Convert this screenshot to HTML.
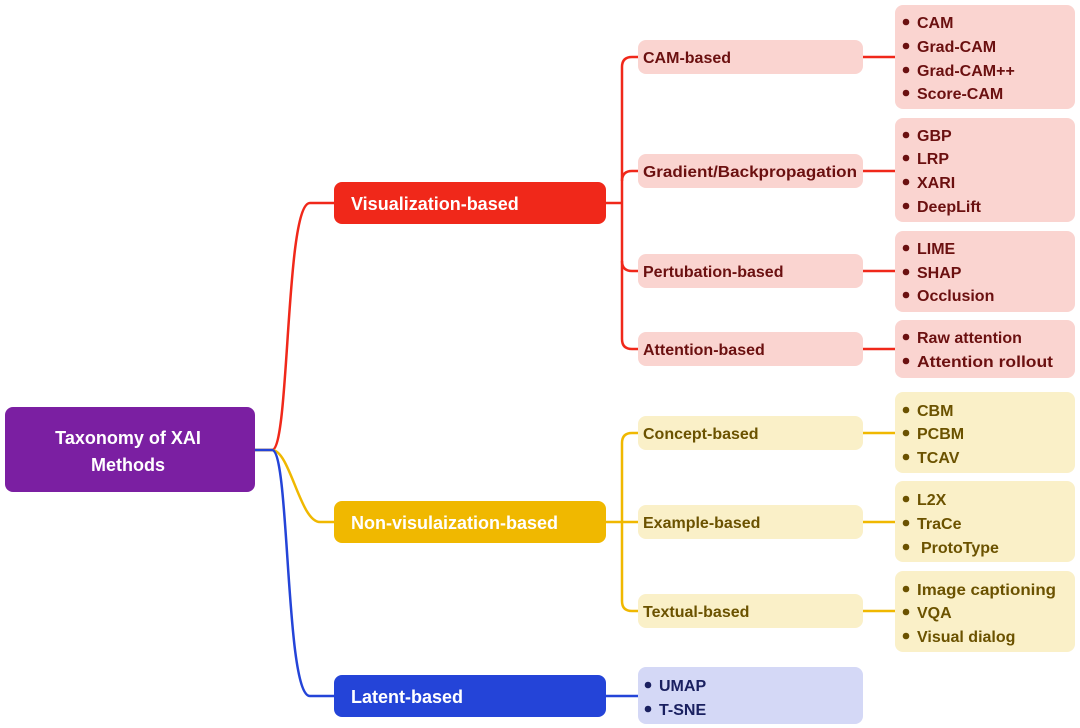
<!DOCTYPE html>
<html><head><meta charset="utf-8"><style>
html,body{margin:0;padding:0;background:#fff;}
svg{display:block;font-family:"Liberation Sans",sans-serif;font-weight:bold;}
</style></head><body>
<svg width="1080" height="728" viewBox="0 0 1080 728" xmlns="http://www.w3.org/2000/svg">
<g fill="none" stroke-width="2.5">
<path d="M255 450 H272 C290 450 285 203 310 203 H334" stroke="#F0281A"/>
<path d="M255 450 H272 C290 450 300 522 320 522 H334" stroke="#F0B800"/>
<path d="M255 450 H272 C290 450 285 696 310 696 H334" stroke="#2444D8"/>
<g stroke="#F0281A">
<path d="M606 203 H622"/>
<path d="M638 57 H632 Q622 57 622 67 V339 Q622 349 632 349 H638"/>
<path d="M622 181 Q622 171 632 171 H638"/>
<path d="M622 261 Q622 271 632 271 H638"/>
<path d="M863 57 H895 M863 171 H895 M863 271 H895 M863 349 H895"/>
</g>
<g stroke="#F0B800">
<path d="M606 522 H638"/>
<path d="M638 433 H632 Q622 433 622 443 V601 Q622 611 632 611 H638"/>
<path d="M863 433 H895 M863 522 H895 M863 611 H895"/>
</g>
<path d="M606 696 H638" stroke="#2444D8"/>
</g>
<rect x="5" y="407" width="250" height="85" rx="8" fill="#7B1FA2"/>
<text x="128" y="444" fill="#fff" font-size="18" text-anchor="middle">Taxonomy of XAI</text>
<text x="128" y="471" fill="#fff" font-size="18" text-anchor="middle">Methods</text>
<rect x="334" y="182" width="272" height="42" rx="8" fill="#F0281A"/>
<text x="351" y="210" fill="#fff" font-size="18">Visualization-based</text>
<rect x="334" y="501" width="272" height="42" rx="8" fill="#F0B800"/>
<text x="351" y="529" fill="#fff" font-size="18">Non-visulaization-based</text>
<rect x="334" y="675" width="272" height="42" rx="8" fill="#2444D8"/>
<text x="351" y="703" fill="#fff" font-size="18">Latent-based</text>
<g fill="#FAD4D0">
<rect x="638" y="40" width="225" height="34" rx="8"/>
<rect x="638" y="154" width="225" height="34" rx="8"/>
<rect x="638" y="254" width="225" height="34" rx="8"/>
<rect x="638" y="332" width="225" height="34" rx="8"/>
<rect x="895" y="5" width="180" height="104" rx="8"/>
<rect x="895" y="118" width="180" height="104" rx="8"/>
<rect x="895" y="231" width="180" height="81" rx="8"/>
<rect x="895" y="320" width="180" height="58" rx="8"/>
</g>
<g fill="#FAF0C8">
<rect x="638" y="416" width="225" height="34" rx="8"/>
<rect x="638" y="505" width="225" height="34" rx="8"/>
<rect x="638" y="594" width="225" height="34" rx="8"/>
<rect x="895" y="392" width="180" height="81" rx="8"/>
<rect x="895" y="481" width="180" height="81" rx="8"/>
<rect x="895" y="571" width="180" height="81" rx="8"/>
</g>
<rect x="638" y="667" width="225" height="57" rx="8" fill="#D4D8F6"/>
<g fill="#6B1010" font-size="16">
<text x="643" y="63">CAM-based</text>
<text x="643" y="177" textLength="214" lengthAdjust="spacingAndGlyphs">Gradient/Backpropagation</text>
<text x="643" y="277">Pertubation-based</text>
<text x="643" y="355">Attention-based</text>
<text x="917" y="28">CAM</text><text x="917" y="52">Grad-CAM</text><text x="917" y="76">Grad-CAM++</text><text x="917" y="99">Score-CAM</text>
<text x="917" y="141">GBP</text><text x="917" y="164">LRP</text><text x="917" y="188">XARI</text><text x="917" y="212">DeepLift</text>
<text x="917" y="254">LIME</text><text x="917" y="278">SHAP</text><text x="917" y="301">Occlusion</text>
<text x="917" y="343">Raw attention</text><text x="917" y="367" textLength="136" lengthAdjust="spacingAndGlyphs">Attention rollout</text>
<g>
<circle cx="906" cy="22" r="3.3"/><circle cx="906" cy="46" r="3.3"/><circle cx="906" cy="70" r="3.3"/><circle cx="906" cy="93" r="3.3"/>
<circle cx="906" cy="135" r="3.3"/><circle cx="906" cy="158" r="3.3"/><circle cx="906" cy="182" r="3.3"/><circle cx="906" cy="206" r="3.3"/>
<circle cx="906" cy="248" r="3.3"/><circle cx="906" cy="272" r="3.3"/><circle cx="906" cy="295" r="3.3"/>
<circle cx="906" cy="337" r="3.3"/><circle cx="906" cy="361" r="3.3"/>
</g></g>
<g fill="#6B5200" font-size="16">
<text x="643" y="439">Concept-based</text>
<text x="643" y="528">Example-based</text>
<text x="643" y="617">Textual-based</text>
<text x="917" y="416">CBM</text><text x="917" y="439">PCBM</text><text x="917" y="463">TCAV</text>
<text x="917" y="505">L2X</text><text x="917" y="529">TraCe</text><text x="921" y="553">ProtoType</text>
<text x="917" y="595" textLength="139" lengthAdjust="spacingAndGlyphs">Image captioning</text><text x="917" y="618">VQA</text><text x="917" y="642">Visual dialog</text>
<circle cx="906" cy="410" r="3.3"/><circle cx="906" cy="433" r="3.3"/><circle cx="906" cy="457" r="3.3"/>
<circle cx="906" cy="499" r="3.3"/><circle cx="906" cy="523" r="3.3"/><circle cx="906" cy="547" r="3.3"/>
<circle cx="906" cy="589" r="3.3"/><circle cx="906" cy="612" r="3.3"/><circle cx="906" cy="636" r="3.3"/>
</g>
<g fill="#1A2060" font-size="16">
<text x="659" y="691">UMAP</text><text x="659" y="715">T-SNE</text>
<circle cx="648" cy="685" r="3.3"/><circle cx="648" cy="709" r="3.3"/>
</g>
</svg>
</body></html>
